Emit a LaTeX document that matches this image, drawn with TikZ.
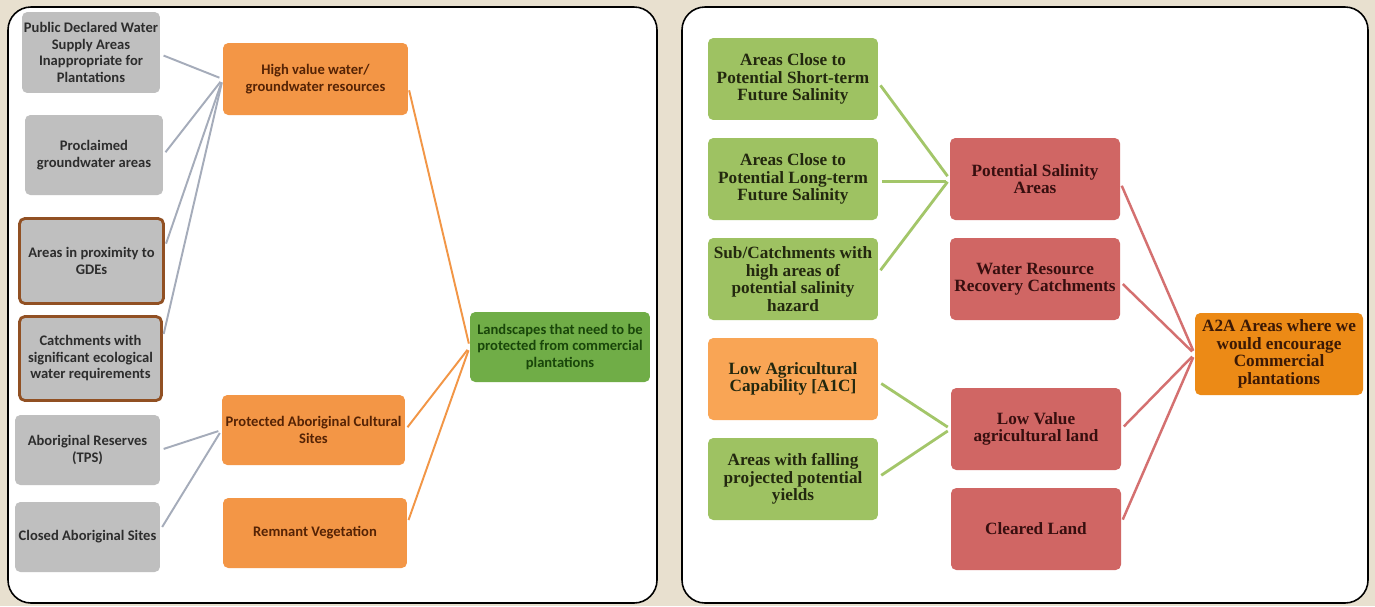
\documentclass[tikz,border=0pt]{standalone}
\usepackage{fontspec}
\setmainfont{Carlito}
\newfontfamily\rfont{Liberation Serif}
\definecolor{parch}{RGB}{232,224,207}
\definecolor{boxgray}{RGB}{191,191,191}
\definecolor{graytext}{RGB}{45,45,45}
\definecolor{boxbrown}{RGB}{145,80,35}
\definecolor{orfill}{RGB}{243,150,70}
\definecolor{ortext}{RGB}{85,35,5}
\definecolor{lgfill}{RGB}{112,173,71}
\definecolor{lgtext}{RGB}{25,70,10}
\definecolor{rgfill}{RGB}{158,194,98}
\definecolor{rgtext}{RGB}{35,40,15}
\definecolor{rofill}{RGB}{249,165,85}
\definecolor{redfill}{RGB}{208,102,100}
\definecolor{redtext}{RGB}{55,15,15}
\definecolor{finfill}{RGB}{236,138,22}
\definecolor{fintext}{RGB}{60,25,5}
\definecolor{lngray}{RGB}{165,172,186}
\definecolor{lnorange}{RGB}{242,150,70}
\definecolor{lngreen}{RGB}{163,198,105}
\definecolor{lnred}{RGB}{212,112,112}
\begin{document}
\begin{tikzpicture}[x=0.02cm,y=-0.02cm,
  lbox/.style={rounded corners=3pt, inner sep=1pt, align=center,
    font=\fontsize{8.3}{9.4}\selectfont\bfseries},
  graybox/.style={lbox, fill=boxgray, text=graytext},
  brownbox/.style={graybox, draw=boxbrown, line width=1.6pt},
  orbox/.style={lbox, fill=orfill, text=ortext},
  lgreen/.style={lbox, fill=lgfill, text=lgtext},
  rbox/.style={rounded corners=3pt, inner sep=1pt, align=center,
    font=\rfont\fontsize{9.8}{10}\selectfont\bfseries,
    minimum width=3.4cm, minimum height=1.64cm},
  rgreen/.style={rbox, fill=rgfill, text=rgtext},
  rorange/.style={rbox, fill=rofill, text=rgtext},
  rred/.style={rbox, fill=redfill, text=redtext},
  rfinal/.style={rbox, fill=finfill, text=fintext, minimum width=3.36cm},
  conn/.style={line width=1.1pt, shorten <=2pt, shorten >=2pt},
  grayline/.style={conn, draw=lngray},
  orline/.style={conn, draw=lnorange},
  greenline/.style={conn, draw=lngreen, line width=1.6pt},
  redline/.style={conn, draw=lnred, line width=1.4pt},
  panel/.style={draw=black, fill=white, line width=0.9pt, rounded corners=0.46cm}
]
\fill[parch] (0,0) rectangle (1375,606);
\useasboundingbox (0,0) rectangle (1375,606);

% panels
\draw[panel] (8,7) rectangle (657,603);
\draw[panel] (682,7) rectangle (1368,603);

% ---------- left panel ----------
\node[graybox, minimum width=2.76cm, minimum height=1.62cm] (g1) at (91,52.5)
  {Public Declared Water\\Supply Areas\\Inappropriate for\\Plantations};
\node[graybox, minimum width=2.76cm, minimum height=1.6cm] (g2) at (94,155)
  {Proclaimed\\groundwater areas};
\node[brownbox, minimum width=2.88cm, minimum height=1.7cm] (g3) at (91.5,261)
  {Areas in proximity to\\GDEs};
\node[brownbox, minimum width=2.84cm, minimum height=1.68cm] (g4) at (90.5,358.5)
  {Catchments with\\significant ecological\\water requirements};
\node[graybox, minimum width=2.9cm, minimum height=1.4cm] (g5) at (87.5,450)
  {Aboriginal Reserves\\(TPS)};
\node[graybox, minimum width=2.9cm, minimum height=1.4cm] (g6) at (87.5,537)
  {Closed Aboriginal Sites};

\node[orbox, minimum width=3.7cm, minimum height=1.44cm] (oA) at (315.5,79)
  {High value water/\\groundwater resources};
\node[orbox, minimum width=3.66cm, minimum height=1.4cm] (oB) at (313.5,430)
  {Protected Aboriginal Cultural\\Sites};
\node[orbox, minimum width=3.68cm, minimum height=1.4cm] (oC) at (315,533)
  {Remnant Vegetation};

\node[lgreen, minimum width=3.6cm, minimum height=1.4cm] (gL) at (560,347)
  {Landscapes that need to be\\protected from commercial\\plantations};

\draw[grayline] ([yshift=-1pt]g1.east) -- (oA.west);
\draw[grayline] (g2.east) -- (oA.west);
\draw[grayline] ([yshift=8pt]g3.east) -- (oA.west);
\draw[grayline] ([yshift=12pt]g4.east) -- (oA.west);
\draw[grayline] (g5.east) -- (oB.west);
\draw[grayline] ([yshift=4pt]g6.east) -- (oB.west);

\draw[orline] ([yshift=-4.5pt]oA.east) -- (gL.west);
\draw[orline] (oB.east) -- (gL.west);
\draw[orline] ([yshift=5.5pt]oC.east) -- (gL.west);

% ---------- right panel ----------
\node[rgreen] (G1) at (793,79) {Areas Close to\\Potential Short-term\\Future Salinity};
\node[rgreen] (G2) at (793,179) {Areas Close to\\Potential Long-term\\Future Salinity};
\node[rgreen] (G3) at (793,279) {Sub/Catchments with\\high areas of\\potential salinity\\hazard};
\node[rorange] (O1) at (793,379) {Low Agricultural\\Capability [A1C]};
\node[rgreen] (G4) at (793,479) {Areas with falling\\projected potential\\yields};

\node[rred] (R1) at (1035,179) {Potential Salinity\\Areas};
\node[rred] (R2) at (1035,279) {Water Resource\\Recovery Catchments};
\node[rred] (R3) at (1036,429) {Low Value\\agricultural land};
\node[rred] (R4) at (1036,529) {Cleared Land};

\node[rfinal] (F) at (1279,354) {A2A Areas where we\\would encourage\\Commercial\\plantations};

\draw[greenline] ([yshift=-2pt]G1.east) -- (R1.west);
\draw[greenline] ([yshift=-1.5pt]G2.east) -- ([yshift=-1.5pt]R1.west);
\draw[greenline] ([yshift=3.4pt]G3.east) -- (R1.west);
\draw[greenline] ([yshift=-1.5pt]O1.east) -- (R3.west);
\draw[greenline] ([yshift=1pt]G4.east) -- (R3.west);

\draw[redline] ([yshift=-2pt]R1.east) -- (F.west);
\draw[redline] ([yshift=-1.5pt]R2.east) -- (F.west);
\draw[redline] (R3.east) -- (F.west);
\draw[redline] ([yshift=3.5pt]R4.east) -- (F.west);
\end{tikzpicture}
\end{document}
